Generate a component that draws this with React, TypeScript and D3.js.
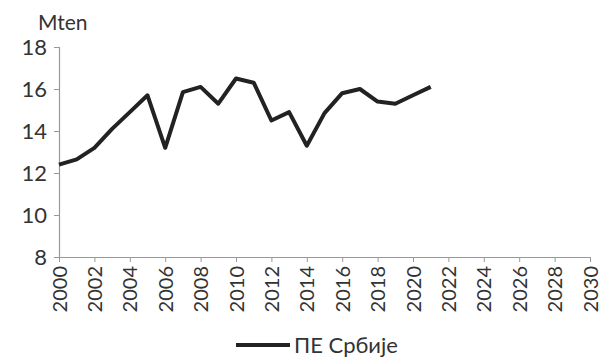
import { FunctionComponent, useRef, useEffect } from "react";
import * as d3 from "d3";

const years = [2000, 2001, 2002, 2003, 2004, 2005, 2006, 2007, 2008, 2009, 2010,
    2011, 2012, 2013, 2014, 2015, 2016, 2017, 2018, 2019, 2020, 2021];
const values = [12.4, 12.65, 13.2, 14.1, 14.9, 15.7, 13.2, 15.85, 16.1, 15.3, 16.5,
    16.3, 14.5, 14.9, 13.3, 14.85, 15.8, 16.0, 15.4, 15.3, 15.7, 16.1];
const yTicks = [8, 10, 12, 14, 16, 18];
const xTicks = d3.range(2000, 2031, 2);
const unitLabel = "Mten";
const seriesName = "ПЕ Србије";

const W = 602;
const H = 361;
const FONT = "Lato, 'Open Sans', sans-serif";

const App: FunctionComponent = () => {
    const container = useRef<SVGSVGElement>(null);

    useEffect(draw, []);

    function draw() {
        if (!container.current) return;
        const svg = d3.select(container.current);
        svg.selectAll("*").remove();

        const x = d3.scaleLinear().domain([2000, 2030]).range([59, 590]);
        const y = d3.scaleLinear().domain([8, 18]).range([257, 47]);

        // y axis
        const yAxis = svg.append("g").attr("transform", "translate(59,0)")
            .call(d3.axisLeft(y).tickValues(yTicks).tickSize(5).tickPadding(7).tickFormat(d3.format("d")));
        yAxis.select(".domain").attr("stroke", "#999").attr("stroke-width", 1.2);
        yAxis.selectAll(".tick line").attr("stroke", "#999");
        yAxis.selectAll(".tick text")
            .attr("font-family", FONT)
            .attr("font-size", 22)
            .attr("fill", "#333");

        // x axis
        const xAxis = svg.append("g").attr("transform", "translate(0,257)")
            .call(d3.axisBottom(x).tickValues(xTicks).tickSize(5).tickSizeOuter(0).tickFormat(d3.format("d")));
        xAxis.select(".domain").attr("stroke", "#999").attr("stroke-width", 1.2);
        xAxis.selectAll(".tick line").attr("stroke", "#999");
        xAxis.selectAll(".tick text")
            .attr("font-family", FONT)
            .attr("font-size", 20)
            .attr("fill", "#333")
            .attr("transform", "rotate(-90)")
            .attr("text-anchor", "end")
            .attr("x", -9)
            .attr("y", 0)
            .attr("dy", "0.35em");

        svg.append("text")
            .attr("x", 38)
            .attr("y", 30)
            .attr("font-family", FONT)
            .attr("font-size", 21)
            .attr("fill", "#333")
            .text(unitLabel);

        const line = d3.line<number>()
            .x((d, i) => x(years[i]))
            .y(d => y(d));

        svg.append("path")
            .datum(values)
            .attr("d", line)
            .attr("fill", "none")
            .attr("stroke", "#222")
            .attr("stroke-width", 4)
            .attr("stroke-linejoin", "round");

        // legend
        const lg = svg.append("g");
        lg.append("line")
            .attr("x1", 236).attr("x2", 290)
            .attr("y1", 345).attr("y2", 345)
            .attr("stroke", "#222")
            .attr("stroke-width", 4);
        lg.append("text")
            .attr("x", 294)
            .attr("y", 353)
            .attr("font-family", FONT)
            .attr("font-size", 22)
            .attr("fill", "#333")
            .text(seriesName);
    }

    return (
        <svg ref={container} width={W} height={H}
            style={{ position: "absolute", left: 0, top: 0, background: "#fff" }} />
    );
};

export default App;
